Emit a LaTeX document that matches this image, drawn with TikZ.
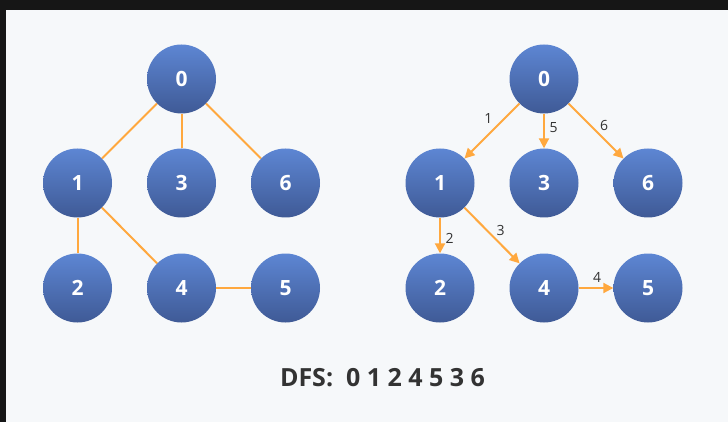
\documentclass[tikz,border=0pt]{standalone}
\usepackage{fontspec}
\setmainfont{Open Sans}
\usetikzlibrary{arrows.meta}
\definecolor{bgdark}{HTML}{161616}
\definecolor{panel}{HTML}{F6F8FA}
\definecolor{edgeorange}{HTML}{FFA83E}
\definecolor{nodetop}{HTML}{5D86D3}
\definecolor{nodebot}{HTML}{3F5A96}
\definecolor{txtdark}{HTML}{333333}
\tikzset{
  vertex/.style={circle, minimum size=69pt, inner sep=0pt, top color=nodetop, bottom color=nodebot,
    text=white, font=\fontsize{21}{24}\selectfont\bfseries},
  plainedge/.style={draw=edgeorange, line width=2pt},
  arrowedge/.style={draw=edgeorange, line width=2pt, -{Triangle[length=10pt,width=10pt]}},
  elabel/.style={text=txtdark, font=\fontsize{14}{16}\selectfont, inner sep=1.5pt},
}
\begin{document}
\begin{tikzpicture}[x=1pt,y=-1pt]
\useasboundingbox (0,0) rectangle (728,422);
\fill[bgdark] (0,0) rectangle (728,422);
\fill[panel] (6,10) rectangle (728,422);
% left graph
\node[vertex] (a0) at (181.5,79) {0};
\node[vertex] (a1) at (77.5,183) {1};
\node[vertex] (a3) at (181.5,183) {3};
\node[vertex] (a6) at (285.5,183) {6};
\node[vertex] (a2) at (77.5,288) {2};
\node[vertex] (a4) at (181.5,288) {4};
\node[vertex] (a5) at (285.5,288) {5};
\draw[plainedge] (a0) -- (a1);
\draw[plainedge] (a0) -- (a3);
\draw[plainedge] (a0) -- (a6);
\draw[plainedge] (a1) -- (a2);
\draw[plainedge] (a1) -- (a4);
\draw[plainedge] (a4) -- (a5);
% right graph
\node[vertex] (b0) at (544,79) {0};
\node[vertex] (b1) at (440,183) {1};
\node[vertex] (b3) at (544,183) {3};
\node[vertex] (b6) at (648,183) {6};
\node[vertex] (b2) at (440,288) {2};
\node[vertex] (b4) at (544,288) {4};
\node[vertex] (b5) at (648,288) {5};
\draw[arrowedge] (b0) -- node[elabel, pos=0.43, above left=1pt] (l1) {1} (b1);
\draw[arrowedge] (b0) -- node[elabel, pos=0.4, right=3pt] (l5) {5} (b3);
\draw[arrowedge] (b0) -- node[elabel, pos=0.53, above right=0pt] (l6) {6} (b6);
\draw[arrowedge] (b1) -- node[elabel, pos=0.57, right=3pt] (l2) {2} (b2);
\draw[arrowedge] (b1) -- node[elabel, pos=0.54, above right=0pt] (l3) {3} (b4);
\draw[arrowedge] (b4) -- node[elabel, pos=0.53, above=3pt] (l4) {4} (b5);
% caption
\node[text=txtdark, font=\fontsize{25}{28}\selectfont\bfseries] (cap) at (382.5,378) {DFS:\ \ 0 1 2 4 5 3 6};
\end{tikzpicture}
\end{document}
